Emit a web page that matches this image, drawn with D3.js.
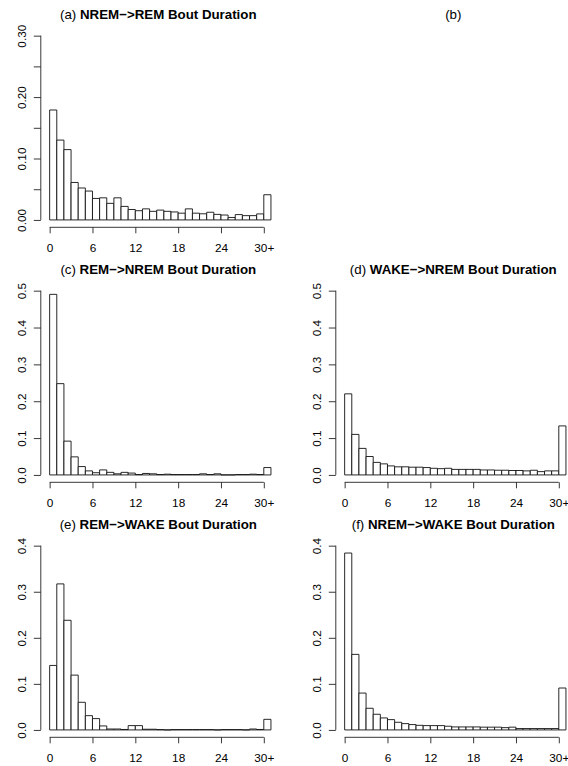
<!DOCTYPE html>
<html>
<head>
<meta charset="utf-8">
<script src="https://cdn.jsdelivr.net/npm/d3@7"></script>
<style>
body { margin: 0; background: #fff; }
svg { font-family: "Liberation Sans", Arial, Helvetica, sans-serif; }
</style>
</head>
<body>
<svg width="568" height="766"></svg>
<script>
// bins 0..30+, proportion of bouts
var bins = d3.range(31);
var xTicks = [0, 6, 12, 18, 24, 30];
var xTickLabels = ["0", "6", "12", "18", "24", "30+"];

var nremRem = [0.179,0.130,0.1145,0.061,0.052,0.047,0.035,0.036,0.027,0.036,0.022,0.017,0.015,0.018,0.014,0.016,0.014,0.013,0.011,0.018,0.011,0.010,0.0125,0.009,0.008,0.004,0.0087,0.007,0.007,0.0098,0.041];
var remNrem = [0.490,0.2477,0.0917,0.049,0.0227,0.011,0.006,0.0136,0.007,0.003,0.007,0.005,0.001,0.004,0.003,0.001,0.002,0.001,0.001,0.001,0.001,0.003,0.001,0.003,0,0,0.001,0.001,0.002,0.001,0.020];
var wakeNrem = [0.220,0.110,0.072,0.050,0.034,0.030,0.0245,0.022,0.022,0.021,0.021,0.020,0.018,0.017,0.018,0.015,0.015,0.015,0.015,0.0135,0.0135,0.0127,0.0127,0.012,0.012,0.011,0.0127,0.009,0.011,0.011,0.133];
var remWake = [0.140,0.317,0.238,0.119,0.060,0.031,0.0246,0.0087,0.002,0.002,0.001,0.0094,0.0094,0.0015,0.0015,0.0007,0,0.0007,0.0007,0.0007,0.0007,0.0007,0.0007,0,0.0007,0.0007,0.0007,0,0.002,0.001,0.023];
var nremWake = [0.384,0.164,0.080,0.047,0.034,0.026,0.0224,0.0166,0.0137,0.0116,0.010,0.0094,0.0094,0.0094,0.008,0.0065,0.0065,0.0065,0.0065,0.006,0.006,0.006,0.005,0.006,0.003,0.003,0.003,0.003,0.003,0.003,0.091];

var ticks30 = [0, 0.05, 0.10, 0.15, 0.20, 0.25, 0.30];
var labels30 = ["0.00", "", "0.10", "", "0.20", "", "0.30"];
var ticks5 = [0, 0.1, 0.2, 0.3, 0.4, 0.5];
var labels5 = ["0.0", "0.1", "0.2", "0.3", "0.4", "0.5"];
var ticks4 = [0, 0.1, 0.2, 0.3, 0.4];
var labels4 = ["0.0", "0.1", "0.2", "0.3", "0.4"];

var svg = d3.select("svg");

var plotW = 239, plotH = 199;

function panelPos(col, row) {
    return { left: 40.8 + col * 295, top: 28.3 + row * 255 };
}

function drawTitle(col, row, tag, name) {
    var p = panelPos(col, row);
    var t = svg.append("text")
        .attr("x", p.left + plotW / 2 - 2)
        .attr("y", p.top - 9)
        .attr("text-anchor", "middle")
        .attr("font-size", 13.3)
        .attr("fill", "#000");
    t.append("tspan").text(tag);
    if (name) {
        t.append("tspan").attr("font-weight", "bold").text(" " + name);
    }
}

function drawHist(col, row, tag, name, data, yMax, yTicks, yLabels) {
    var p = panelPos(col, row);
    var g = svg.append("g")
        .attr("transform", "translate(" + p.left + "," + p.top + ")");

    // R style 4% padding on both axes
    var x = d3.scaleLinear()
        .domain([-0.04 * 31, 31 * 1.04])
        .range([0, plotW]);
    var y = d3.scaleLinear()
        .domain([-0.04 * yMax, yMax * 1.04])
        .range([plotH, 0]);

    // paths so that empty bins still leave their outline on the baseline
    g.selectAll("path.bar")
        .data(data)
        .enter().append("path")
        .attr("class", "bar")
        .attr("d", function(d, i) {
            var pth = d3.path();
            pth.rect(x(bins[i]), y(d), x(1) - x(0), y(0) - y(d));
            return pth.toString();
        })
        .attr("fill", "#fff")
        .attr("stroke", "#111")
        .attr("stroke-width", 0.9);

    var xAxis = g.append("g")
        .attr("transform", "translate(0," + plotH + ")")
        .call(d3.axisBottom(x).tickValues(xTicks)
            .tickFormat(function(d, i) { return xTickLabels[i]; })
            .tickSize(6).tickSizeOuter(0).tickPadding(10));
    xAxis.select(".domain")
        .attr("d", "M" + x(0) + ",0H" + x(30));

    var yAxis = g.append("g")
        .call(d3.axisLeft(y).tickValues(yTicks)
            .tickFormat(function(d, i) { return yLabels[i]; })
            .tickSize(7).tickSizeOuter(0));
    yAxis.select(".domain")
        .attr("d", "M0," + y(0) + "V" + y(yMax));
    yAxis.selectAll(".tick text")
        .attr("transform", "rotate(-90)")
        .attr("text-anchor", "middle")
        .attr("x", 0)
        .attr("dy", 0)
        .attr("y", -15);

    g.selectAll(".tick text").attr("font-size", 11.8).attr("fill", "#000");
    g.selectAll("g").attr("font-family", null);
    g.selectAll(".domain, .tick line").attr("stroke", "#222").attr("stroke-width", 0.9);

    drawTitle(col, row, tag, name);
}

drawHist(0, 0, "(a)", "NREM\u2212>REM Bout Duration", nremRem, 0.30, ticks30, labels30);
drawTitle(1, 0, "(b)", null);
drawHist(0, 1, "(c)", "REM\u2212>NREM Bout Duration", remNrem, 0.5, ticks5, labels5);
drawHist(1, 1, "(d)", "WAKE\u2212>NREM Bout Duration", wakeNrem, 0.5, ticks5, labels5);
drawHist(0, 2, "(e)", "REM\u2212>WAKE Bout Duration", remWake, 0.4, ticks4, labels4);
drawHist(1, 2, "(f)", "NREM\u2212>WAKE Bout Duration", nremWake, 0.4, ticks4, labels4);
</script>
</body>
</html>
